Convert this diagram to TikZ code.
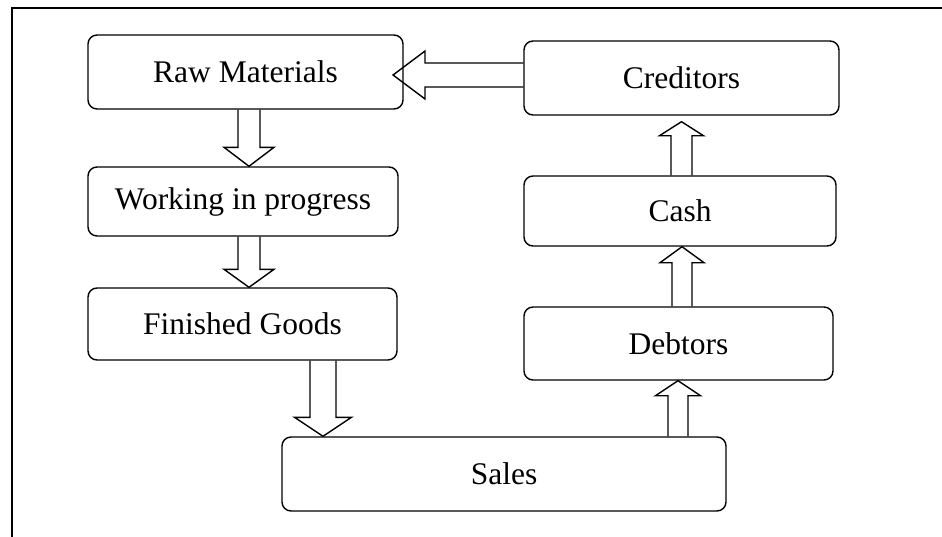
\documentclass[tikz,border=0pt]{standalone}
\usepackage{fontspec}
\setmainfont{Liberation Serif}
\usetikzlibrary{calc}

\tikzset{
  box/.style={draw, line width=1.4pt, rounded corners=9pt, minimum width=315pt,
    minimum height=74pt, inner sep=0pt, font=\fontsize{31.5}{38}\selectfont},
  blk/.style={draw, line width=1.4pt, line join=miter, fill=none},
  frame/.style={line width=2.4pt}
}

% block arrow pointing down (y grows downward): start, tip, half shaft, half head, head length
\newcommand\downblock[5]{%
  \draw[blk] ($(#1)+(-#3,0)$) -- ($(#2)+(-#3,-#5)$) -- ($(#2)+(-#4,-#5)$) -- (#2)
    -- ($(#2)+(#4,-#5)$) -- ($(#2)+(#3,-#5)$) -- ($(#1)+(#3,0)$);}
% block arrow pointing up
\newcommand\upblock[5]{%
  \draw[blk] ($(#1)+(-#3,0)$) -- ($(#2)+(-#3,#5)$) -- ($(#2)+(-#4,#5)$) -- (#2)
    -- ($(#2)+(#4,#5)$) -- ($(#2)+(#3,#5)$) -- ($(#1)+(#3,0)$);}
% block arrow pointing left
\newcommand\leftblock[5]{%
  \draw[blk] ($(#1)+(0,-#3)$) -- ($(#2)+(#5,-#3)$) -- ($(#2)+(#5,-#4)$) -- (#2)
    -- ($(#2)+(#5,#4)$) -- ($(#2)+(#5,#3)$) -- ($(#1)+(0,#3)$);}

\begin{document}
\begin{tikzpicture}[x=1pt, y=-1pt]
\useasboundingbox (0,0) rectangle (942,536);

% page frame (only the top and left edges fall inside the picture)
\coordinate (fbl) at (12,540);
\coordinate (ftl) at (12,8);
\coordinate (ftr) at (946,8);
\draw[frame] (fbl) -- (ftl) -- (ftr);

% boxes
\node[box] (raw)   at (245.5,72)   {Raw Materials};
\node[box, minimum width=310pt, minimum height=69pt] (work) at (243,201.5) {Working in progress};
\node[box, minimum width=309pt, minimum height=72pt] (fin)  at (242.5,324) {Finished Goods};
\node[box, minimum width=444pt] (sales) at (504,474) {Sales};
\node[box, minimum width=309pt, minimum height=73pt] (debt) at (678.5,343.5) {Debtors};
\node[box, minimum width=312pt, minimum height=70pt] (cash) at (680,211) {Cash};
\node[box] (cred)  at (681.5,78) {Creditors};

% arrow end points
\coordinate (a1s) at (raw.south -| 249,0);
\coordinate (a1t) at (work.north -| 249,0);
\coordinate (a2s) at (work.south -| 249,0);
\coordinate (a2t) at (fin.north -| 249,0);
\coordinate (a3s) at (fin.south -| 323,0);
\coordinate (a3t) at (sales.north -| 323,0);
\coordinate (a4s) at (sales.north -| 678,0);
\coordinate (a4t) at (debt.south -| 678,0);
\coordinate (a5s) at (debt.north -| 682,0);
\coordinate (a5t) at (cash.south -| 682,0);
\coordinate (a6s) at (cash.north -| 681.5,0);
\coordinate (a6t) at ($(cred.south -| 681.5,0)+(0,6)$);
\coordinate (a7s) at (cred.west |- 0,75);
\coordinate (a7t) at (393,75);

% flow arrows
\downblock{a1s}{a1t}{11}{25}{19}
\downblock{a2s}{a2t}{11}{25}{18}
\downblock{a3s}{a3t}{13}{28.5}{19}
\upblock{a4s}{a4t}{10}{22.5}{15}
\upblock{a5s}{a5t}{10}{22}{16}
\upblock{a6s}{a6t}{10.5}{22}{14}
\leftblock{a7s}{a7t}{12}{24}{32}
\end{tikzpicture}
\end{document}
